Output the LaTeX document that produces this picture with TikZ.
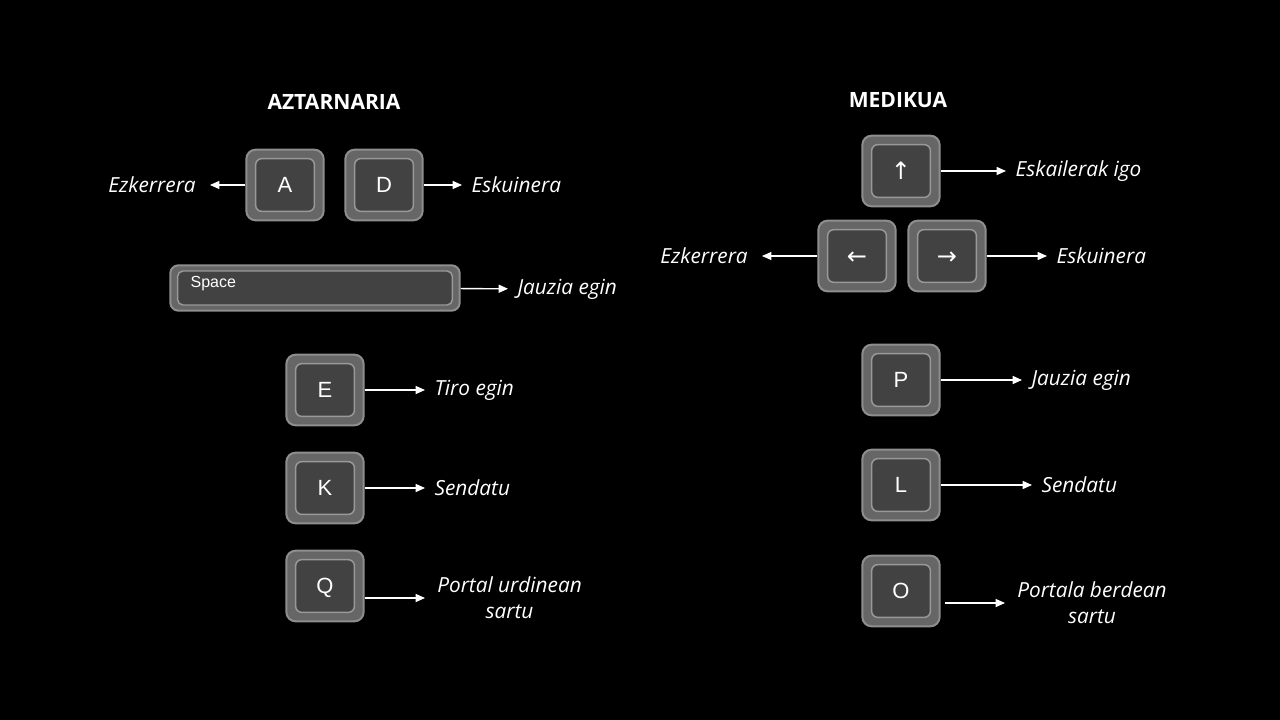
\documentclass[tikz,border=0pt]{standalone}
\usepackage{fontspec}
\usetikzlibrary{arrows.meta}
\setmainfont{Open Sans}
\newfontfamily\keyfont{Liberation Sans}
\newfontfamily\arrowfont{DejaVu Sans}

\definecolor{keyrim}{HTML}{8E8E8E}
\definecolor{keyside}{HTML}{666666}
\definecolor{keyface}{HTML}{424242}

\begin{document}
\begin{tikzpicture}
[x=0.75pt, y=-0.75pt,
keyback/.style ={rectangle, draw=keyrim, line width=1.5pt, fill=keyside, rounded corners=7pt, minimum width=58pt, minimum height=53pt},
keytop/.style ={rectangle, draw=keyrim!90, line width=1.1pt, fill=keyface, rounded corners=4.5pt, minimum width=44pt, minimum height=39.5pt, text depth=0pt, text=white, font=\keyfont\fontsize{16.5}{19}\selectfont},
arrowkey/.style ={keytop, font=\arrowfont\fontsize{18}{20}\selectfont},
sidekey/.style ={arrowkey, text height=1.3em},
spaceback/.style ={keyback, minimum width=217pt, minimum height=34pt, rounded corners=6pt},
spacetop/.style ={keytop, minimum width=206pt, minimum height=25.5pt, rounded corners=4pt},
title/.style ={text=white, font=\bfseries\fontsize{15.8}{18}\selectfont},
action/.style ={text=white, align=center, inner sep=7pt, font=\itshape\fontsize{15.6}{19.5}\selectfont},
line/.style ={draw=white, line width=1pt, -{Triangle[length=7pt, width=6pt]}}]
\fill[black] (0,0) rectangle (1280,720);
% hunter
\draw (334, 102) node[title] (htitle) {AZTARNARIA};
\draw (285, 185) node[keyback] (Aback) {};
\draw (285, 185) node[keytop] (A) {A};
\draw (384, 185) node[keyback] (Dback) {};
\draw (384, 185) node[keytop] (D) {D};
\draw (210, 185) node[action, anchor=east, inner xsep=10.5pt] (hleft) {Ezkerrera};
\draw (462, 185) node[action, anchor=west] (hright) {Eskuinera};
\draw (315, 288) node[spaceback] (Spaceback) {};
\draw (315, 288) node[spacetop] (Space) {};
\draw (189, 284) node[anchor=west, text=white, inner sep=1pt, font=\keyfont\fontsize{12}{14}\selectfont] (spacetxt) {Space};
\draw (508, 289) node[action, anchor=west] (hjump) {Jauzia egin};
\draw (325, 390) node[keyback] (Eback) {};
\draw (325, 390) node[keytop] (E) {E};
\draw (425, 390) node[action, anchor=west] (hshoot) {Tiro egin};
\draw (325, 488) node[keyback] (Kback) {};
\draw (325, 488) node[keytop] (K) {K};
\draw (425, 488) node[action, anchor=west] (hheal) {Sendatu};
\draw (325, 586) node[keyback] (Qback) {};
\draw (325, 586) node[keytop] (Q) {Q};
\draw (425, 598) node[action, anchor=west, inner xsep=9pt] (hportal) {Portal urdinean\\sartu};
% medic
\draw (898, 100) node[title] (mtitle) {MEDIKUA};
\draw (901, 171) node[keyback] (Upback) {};
\draw (901, 171) node[arrowkey] (Up) {↑};
\draw (857, 256) node[keyback] (Leftback) {};
\draw (857, 256) node[sidekey] (Left) {←};
\draw (947, 256) node[keyback] (Rightback) {};
\draw (947, 256) node[sidekey] (Right) {→};
\draw (1006, 171) node[action, anchor=west] (mclimb) {Eskailerak igo};
\draw (762, 256) node[action, anchor=east, inner xsep=10.5pt] (mleft) {Ezkerrera};
\draw (1047, 256) node[action, anchor=west] (mright) {Eskuinera};
\draw (901, 380) node[keyback] (Pback) {};
\draw (901, 380) node[keytop] (P) {P};
\draw (1022, 380) node[action, anchor=west] (mjump) {Jauzia egin};
\draw (901, 485) node[keyback] (Lback) {};
\draw (901, 485) node[keytop] (L) {L};
\draw (1032, 485) node[action, anchor=west] (mheal) {Sendatu};
\draw (901, 591) node[keyback] (Oback) {};
\draw (901, 591) node[keytop] (O) {O};
\draw (1005, 603) node[action, anchor=west, inner xsep=9pt] (mportal) {Portala berdean\\sartu};
% arrows
\draw[line] (Aback) -- (hleft);
\draw[line] (Dback) -- (hright);
\draw[line] (Spaceback) -- (hjump);
\draw[line] (Eback) -- (hshoot);
\draw[line] (Kback) -- (hheal);
\draw[line] (Qback.east |- hportal.west) -- (hportal);
\draw[line] (Upback) -- (mclimb);
\draw[line] (Leftback) -- (mleft);
\draw[line] (Rightback) -- (mright);
\draw[line] (Pback) -- (mjump);
\draw[line] (Lback) -- (mheal);
\draw[line] ([xshift=3pt]Oback.east |- mportal.west) -- (mportal);
\end{tikzpicture}
\end{document}
